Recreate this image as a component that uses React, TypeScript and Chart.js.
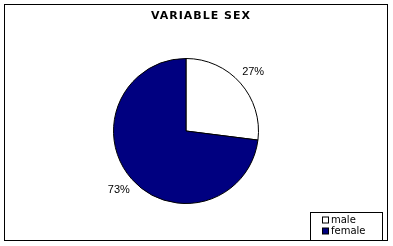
import React, { useEffect, useRef } from "react";
import { Chart, registerables } from "chart.js";

Chart.register(...registerables);

const titleText = "VARIABLE SEX";
const categories = ["male", "female"];
const shares = [27, 73];
const sliceColors = ["#FFFFFF", "#000080"];

const W = 393;
const H = 246;

const decorPlugin = {
  id: "decor",
  afterDraw(chart: any) {
    const ctx = chart.ctx as CanvasRenderingContext2D;
    ctx.save();
    // outer frame
    ctx.strokeStyle = "#000";
    ctx.lineWidth = 1;
    ctx.strokeRect(4.5, 4.5, 383, 236);

    // title
    ctx.fillStyle = "#000";
    ctx.font = "bold 11px 'DejaVu Sans'";
    (ctx as any).letterSpacing = "1px";
    ctx.textAlign = "center";
    ctx.textBaseline = "middle";
    ctx.fillText(titleText, 201, 16.5);
    (ctx as any).letterSpacing = "0px";

    // percent labels
    const meta = chart.getDatasetMeta(0);
    const data = chart.data.datasets[0].data as number[];
    const total = data.reduce((a, b) => a + b, 0);
    ctx.font = "11px 'Liberation Sans'";
    meta.data.forEach((arc: any, i: number) => {
      const p = arc.getProps(["x", "y", "startAngle", "endAngle", "outerRadius"], true);
      const mid = (p.startAngle + p.endAngle) / 2;
      const r = p.outerRadius + 17;
      const x = p.x + Math.cos(mid) * r;
      const y = p.y + Math.sin(mid) * r;
      ctx.fillText(Math.round((data[i] / total) * 100) + "%", x, y);
    });

    // legend box
    const lx = 310.5, ly = 212.5, lw = 72, lh = 28;
    ctx.fillStyle = "#fff";
    ctx.fillRect(lx, ly, lw, lh);
    ctx.strokeRect(lx, ly, lw, lh);
    ctx.font = "10px 'DejaVu Sans'";
    ctx.textAlign = "left";
    const labels = chart.data.labels as string[];
    labels.forEach((lab, i) => {
      const cy = 220 + i * 11;
      ctx.fillStyle = sliceColors[i];
      ctx.fillRect(322.5, cy - 3, 6, 6);
      ctx.strokeStyle = "#000";
      ctx.strokeRect(322.5, cy - 3, 6, 6);
      ctx.fillStyle = "#000";
      ctx.fillText(lab, 331, cy + 0.5);
    });
    ctx.restore();
  },
};

export default function App() {
  const ref = useRef<HTMLCanvasElement | null>(null);
  useEffect(() => {
    if (!ref.current) return;
    const chart = new Chart(ref.current, {
      type: "pie",
      data: {
        labels: categories,
        datasets: [
          {
            data: shares,
            backgroundColor: sliceColors,
            borderColor: "#000",
            borderWidth: 1,
          },
        ],
      },
      options: {
        responsive: false,
        maintainAspectRatio: false,
        animation: false,
        layout: { padding: { left: 113, right: W - 259, top: 58, bottom: H - 204 } },
        plugins: {
          legend: { display: false },
          title: { display: false },
          tooltip: { enabled: false },
        },
      },
      plugins: [decorPlugin],
    });
    return () => chart.destroy();
  }, []);
  return (
    <div style={{ position: "absolute", left: 0, top: 0, width: W, height: H, background: "#fff" }}>
      <canvas ref={ref} width={W} height={H} style={{ display: "block" }} />
    </div>
  );
}
